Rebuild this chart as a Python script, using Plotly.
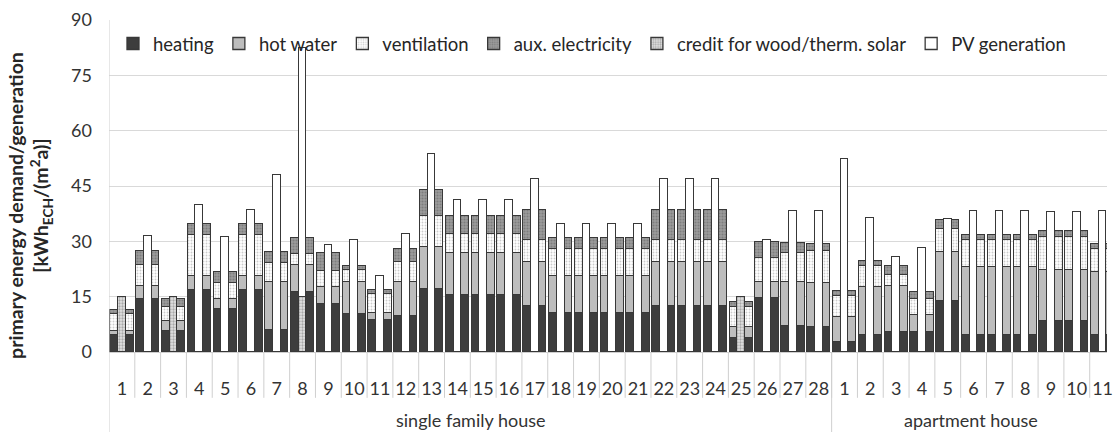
import plotly.graph_objects as go

# Case numbers on the category axis
sfh_cases = [str(i) for i in range(1, 29)]
ah_cases = [str(i) for i in range(1, 12)]
case_labels = sfh_cases + ah_cases

group_names = ["single family house", "apartment house"]
group_sizes = [len(sfh_cases), len(ah_cases)]

# Primary energy demand components [kWh_ECH/(m²a)]
heating = [4.7, 14.4, 5.6, 16.7, 11.6, 16.7, 6.0, 16.2, 13.1, 10.3,
           8.6, 9.8, 17.1, 15.5, 15.5, 15.5, 12.6, 10.6, 10.6, 10.6,
           10.6, 12.6, 12.6, 12.6, 3.8, 14.6, 7.1, 6.9,
           2.7, 4.7, 5.4, 5.4, 13.7, 4.7, 4.7, 4.7, 8.5, 8.5, 4.7]
hot_water = [1.1, 3.6, 2.7, 3.8, 2.8, 4.0, 13.1, 7.5, 4.5, 8.8,
             2.1, 9.3, 11.4, 11.3, 11.3, 11.3, 11.7, 10.1, 10.1, 10.1,
             10.1, 11.7, 11.7, 11.7, 3.1, 4.5, 11.9, 11.8,
             6.9, 12.9, 12.6, 4.5, 13.4, 18.3, 18.3, 18.3, 13.8, 13.8, 17.1]
ventilation = [4.6, 5.5, 3.9, 11.3, 4.3, 11.1, 5.0, 2.9, 4.4, 3.1,
               5.0, 5.2, 8.3, 5.2, 5.2, 5.2, 6.1, 7.2, 7.2, 7.2,
               7.2, 6.1, 6.1, 6.1, 5.3, 6.4, 7.8, 8.6,
               5.7, 5.6, 2.9, 4.5, 6.2, 7.4, 7.4, 7.4, 8.9, 8.9, 6.1]
aux_electricity = [1.1, 4.0, 2.2, 3.0, 2.9, 3.0, 3.0, 4.3, 4.8, 1.2,
                   1.0, 3.6, 7.0, 4.9, 4.9, 4.9, 8.2, 3.0, 3.0, 3.0,
                   3.0, 8.2, 8.2, 8.2, 1.3, 4.3, 2.7, 2.0,
                   1.3, 1.5, 2.3, 2.0, 2.6, 1.2, 1.2, 1.2, 1.7, 1.7, 1.4]

# Generation / credits [kWh_ECH/(m²a)]
credit_wood_solar = [14.9, 0, 14.9, 0, 0, 0, 0, 14.9, 0, 0,
                     0, 0, 0, 0, 0, 0, 0, 0, 0, 0,
                     0, 0, 0, 0, 14.9, 0, 0, 0,
                     0, 0, 0, 0, 0, 0, 0, 0, 0, 0, 0]
pv_generation = [0, 31.5, 0, 39.9, 31.2, 38.6, 48.0, 67.5, 28.9, 30.3,
                 20.5, 32.0, 53.7, 41.1, 41.1, 41.1, 46.9, 34.8, 34.8, 34.8,
                 34.8, 46.9, 46.9, 46.9, 0, 30.3, 38.1, 38.1,
                 52.3, 36.3, 25.7, 28.2, 36.1, 38.1, 38.1, 38.1, 37.9, 37.9, 38.1]

FONT = "Lato"
OUTLINE = dict(color="#383838", width=1.3)
BAR_W = 0.3

idx = list(range(len(case_labels)))
# demand is drawn on both sides of the generation bar
x_demand = [i - BAR_W for i in idx] + [i + BAR_W for i in idx]
x_gen = idx


def nz(vals):
    return [v if v else None for v in vals]


fig = go.Figure()

demand_specs = [
    ("heating", heating, dict(color="#3d3d3d")),
    ("hot water", hot_water, dict(color="#bdbdbd")),
    ("ventilation", ventilation,
     dict(color="#ffffff", pattern=dict(shape=".", fgcolor="#9a9a9a", size=3,
                                        solidity=0.3, fillmode="overlay"))),
    ("aux. electricity", aux_electricity,
     dict(color="#9c9c9c", pattern=dict(shape=".", fgcolor="#5e5e5e", size=3,
                                        solidity=0.4, fillmode="overlay"))),
]
for name, vals, mk in demand_specs:
    fig.add_trace(go.Bar(
        name=name, x=x_demand, y=vals + vals, width=BAR_W,
        marker=dict(line=OUTLINE, **mk), hoverinfo="skip",
    ))

gen_specs = [
    ("credit for wood/therm. solar", credit_wood_solar,
     dict(color="#e2e2e2", pattern=dict(shape=".", fgcolor="#6e6e6e", size=3,
                                        solidity=0.45, fillmode="overlay"))),
    ("PV generation", pv_generation, dict(color="#ffffff")),
]
for name, vals, mk in gen_specs:
    fig.add_trace(go.Bar(
        name=name, x=x_gen, y=nz(vals), width=BAR_W,
        marker=dict(line=OUTLINE, **mk), hoverinfo="skip",
    ))

# category separators below the plot area
shapes = []
sep_color = "#cfcfcf"
for i in range(1, len(case_labels)):
    shapes.append(dict(type="line", xref="x", yref="paper",
                       x0=i - 0.5, x1=i - 0.5, y0=0, y1=-0.138,
                       line=dict(color=sep_color, width=1)))
start = 0
group_bounds = [0]
for n in group_sizes:
    start += n
    group_bounds.append(start)
for b in group_bounds[:-1]:
    shapes.append(dict(type="line", xref="x", yref="paper",
                       x0=b - 0.5, x1=b - 0.5,
                       y0=1 if b == 0 else 0, y1=-0.245,
                       line=dict(color=sep_color, width=1)))

annotations = [
    dict(text=group_names[0], xref="x", yref="paper",
         x=(group_bounds[0] + group_bounds[1] - 1) / 2, y=-0.205,
         xanchor="center", yanchor="middle", showarrow=False,
         font=dict(family=FONT, size=18, color="#333333")),
    dict(text=group_names[1], xref="x", yref="paper",
         x=32.9, y=-0.205,
         xanchor="center", yanchor="middle", showarrow=False,
         font=dict(family=FONT, size=18, color="#333333")),
    dict(text="<b>primary energy demand/generation</b><br>"
              "<b>[kWh<sub>ECH</sub>/(m<sup>2</sup>a)]</b>",
         xref="paper", yref="paper", x=0, y=0.44, xshift=-79,
         xanchor="center", yanchor="middle", textangle=-90, showarrow=False,
         font=dict(family=FONT, size=19.5, color="#262626")),
]

fig.update_layout(
    width=1113, height=432,
    margin=dict(l=109, r=0, t=20, b=80),
    paper_bgcolor="white", plot_bgcolor="white",
    barmode="stack", bargap=0,
    font=dict(family=FONT, size=18, color="#333333"),
    showlegend=True,
    legend=dict(orientation="h", x=0.004, y=0.985, xanchor="left", yanchor="top",
                bgcolor="rgba(0,0,0,0)", font=dict(family=FONT, size=18.5, color="#262626"),
                itemwidth=30, tracegroupgap=0, traceorder="normal"),
    shapes=shapes,
    annotations=annotations,
)
fig.update_xaxes(
    range=[-0.5, 38.17], tickmode="array", tickvals=idx, ticktext=case_labels,
    ticks="", showgrid=False, zeroline=False,
    showline=True, linecolor="#cfcfcf", linewidth=1,
    tickfont=dict(family=FONT, size=18, color="#333333"),
    ticklabelstandoff=20, ticklabeloverflow="allow",
)
fig.update_yaxes(
    range=[0, 90], tick0=0, dtick=15, showgrid=True, gridcolor="#d9d9d9", gridwidth=1,
    zeroline=False, showline=False, ticks="",
    tickfont=dict(family=FONT, size=18, color="#333333"),
    ticklabelstandoff=16,
)

fig.write_html("out.html")
